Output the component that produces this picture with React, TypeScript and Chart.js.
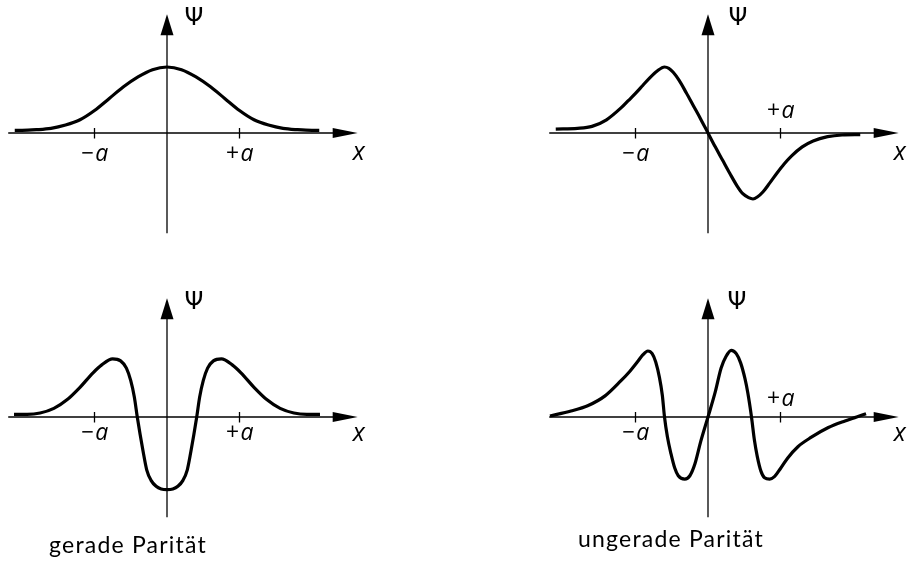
import React, { useEffect, useRef } from "react";
import { Chart, registerables } from "chart.js";

Chart.register(...registerables);

// Wave functions ψ(x); x in units of a, ψ relative to the ground-state maximum.

// gerade Parität, ground state
const evenGroundX = [-2.1, -2.0, -1.8, -1.6, -1.4, -1.2, -1.0, -0.8, -0.6, -0.4, -0.2, 0, 0.2, 0.4, 0.6, 0.8, 1.0, 1.2, 1.4, 1.6, 1.8, 2.0, 2.1];
const evenGroundPsi = [0.04, 0.04, 0.05, 0.07, 0.12, 0.2, 0.34, 0.52, 0.7, 0.85, 0.96, 1.0, 0.96, 0.85, 0.7, 0.52, 0.34, 0.2, 0.12, 0.07, 0.05, 0.04, 0.04];

// ungerade Parität, first excited state
const oddFirstX = [-2.1, -1.8, -1.6, -1.4, -1.2, -1.1, -1.0, -0.9, -0.8, -0.7, -0.6, -0.54, -0.48, -0.4, -0.3, -0.2, -0.1, 0, 0.1, 0.2, 0.3, 0.4, 0.48, 0.56, 0.62, 0.68, 0.76, 0.85, 0.95, 1.05, 1.15, 1.3, 1.45, 1.65, 1.85, 2.1];
const oddFirstPsi = [0.06, 0.07, 0.1, 0.2, 0.38, 0.49, 0.6, 0.72, 0.84, 0.94, 1.0, 0.98, 0.92, 0.8, 0.61, 0.41, 0.21, 0, -0.21, -0.41, -0.61, -0.8, -0.92, -0.98, -1.0, -0.97, -0.89, -0.76, -0.61, -0.47, -0.35, -0.21, -0.12, -0.055, -0.03, -0.025];

// gerade Parität, second excited state
const evenSecondX = [-2.11, -1.93, -1.75, -1.56, -1.38, -1.2, -1.02, -0.9, -0.75, -0.64, -0.56, -0.5, -0.45, -0.41, -0.37, -0.33, -0.28, -0.22, -0.15, -0.08, 0, 0.08, 0.15, 0.22, 0.28, 0.33, 0.37, 0.41, 0.45, 0.5, 0.56, 0.64, 0.75, 0.9, 1.02, 1.2, 1.38, 1.56, 1.75, 1.93, 2.11];
const evenSecondPsi = [0.04, 0.04, 0.06, 0.13, 0.26, 0.45, 0.67, 0.79, 0.88, 0.85, 0.74, 0.55, 0.3, 0, -0.27, -0.52, -0.8, -0.96, -1.05, -1.09, -1.1, -1.09, -1.05, -0.96, -0.8, -0.52, -0.27, 0, 0.3, 0.55, 0.74, 0.85, 0.88, 0.79, 0.67, 0.45, 0.26, 0.13, 0.06, 0.04, 0.04];

// ungerade Parität, third excited state
const oddThirdX = [-2.18, -1.89, -1.66, -1.42, -1.2, -1.08, -0.97, -0.9, -0.83, -0.77, -0.72, -0.67, -0.63, -0.6, -0.56, -0.51, -0.46, -0.41, -0.32, -0.25, -0.18, -0.1, 0, 0.1, 0.18, 0.25, 0.32, 0.39, 0.45, 0.51, 0.55, 0.6, 0.64, 0.68, 0.73, 0.78, 0.85, 0.92, 1.0, 1.1, 1.24, 1.42, 1.66, 1.89, 2.05, 2.18];
const oddThirdPsi = [0.015, 0.09, 0.17, 0.32, 0.55, 0.69, 0.84, 0.94, 1.0, 0.96, 0.83, 0.6, 0.33, 0, -0.3, -0.56, -0.77, -0.89, -0.94, -0.89, -0.71, -0.37, 0, 0.38, 0.74, 0.92, 1.01, 0.96, 0.82, 0.58, 0.36, 0, -0.35, -0.6, -0.82, -0.92, -0.94, -0.9, -0.78, -0.62, -0.45, -0.31, -0.16, -0.06, 0, 0.05];

// Axis annotations
const tickValues = [-1, 1];
const tickLabels = ["\u2212a", "+a"];
const axisNameX = "x";
const axisNameY = "\u03a8";
const captions = ["gerade Parit\u00e4t", "ungerade Parit\u00e4t"];

const PX_PER_A = 72.5;
const PX_PER_PSI = 66;
const CANVAS_W = 400;
const CANVAS_H = 260;
const ORIGIN_X = 180;
const ORIGIN_Y = 135;

type PanelSpec = {
  xs: number[];
  ys: number[];
  ox: number;
  oy: number;
  labelDy: number[]; // vertical offset of the −a / +a labels from the axis
  psiDx: number;
  nameDy: number;
};

const panels: PanelSpec[] = [
  { xs: evenGroundX, ys: evenGroundPsi, ox: 167, oy: 132.5, labelDy: [21, 21], psiDx: 27, nameDy: 20 },
  { xs: oddFirstX, ys: oddFirstPsi, ox: 707.5, oy: 133, labelDy: [21, -22], psiDx: 30, nameDy: 20 },
  { xs: evenSecondX, ys: evenSecondPsi, ox: 167, oy: 417, labelDy: [16.5, 16.5], psiDx: 27, nameDy: 16.5 },
  { xs: oddThirdX, ys: oddThirdPsi, ox: 707.5, oy: 417, labelDy: [16.5, -18], psiDx: 29, nameDy: 16.5 },
];

function axesPlugin(spec: PanelSpec) {
  return {
    id: "arrowAxes",
    beforeDatasetsDraw(chart: Chart) {
      const { ctx } = chart;
      const sx = chart.scales.x;
      const sy = chart.scales.y;
      const x0 = sx.getPixelForValue(0);
      const y0 = sy.getPixelForValue(0);
      const xL = sx.getPixelForValue(-2.19);
      const xTip = sx.getPixelForValue(2.63);
      const yBot = sy.getPixelForValue(-1.52);
      const yTip = sy.getPixelForValue(1.8);
      ctx.save();
      ctx.strokeStyle = "#000";
      ctx.fillStyle = "#000";
      ctx.lineWidth = 1.3;
      // x axis with arrow
      ctx.beginPath();
      ctx.moveTo(xL, y0);
      ctx.lineTo(xTip - 20, y0);
      ctx.stroke();
      ctx.beginPath();
      ctx.moveTo(xTip, y0);
      ctx.lineTo(xTip - 25, y0 - 5);
      ctx.lineTo(xTip - 25, y0 + 5);
      ctx.closePath();
      ctx.fill();
      // y axis with arrow
      ctx.beginPath();
      ctx.moveTo(x0, yBot);
      ctx.lineTo(x0, yTip + 16);
      ctx.stroke();
      ctx.beginPath();
      ctx.moveTo(x0, yTip);
      ctx.lineTo(x0 - 6.5, yTip + 21);
      ctx.lineTo(x0 + 6.5, yTip + 21);
      ctx.closePath();
      ctx.fill();
      // ticks at ±a
      tickValues.forEach((v, i) => {
        const tx = sx.getPixelForValue(v);
        ctx.beginPath();
        ctx.moveTo(tx, y0 - 5);
        ctx.lineTo(tx, y0 + 5.5);
        ctx.stroke();
        ctx.font = "italic 23px 'Open Sans'";
        (ctx as any).letterSpacing = "2px";
        ctx.textAlign = "center";
        ctx.textBaseline = "middle";
        ctx.fillText(tickLabels[i], tx + 1, y0 + spec.labelDy[i]);
      });
      (ctx as any).letterSpacing = "0px";
      // axis names
      ctx.font = "italic 25px 'Open Sans'";
      ctx.textAlign = "center";
      ctx.textBaseline = "middle";
      ctx.fillText(axisNameX, xTip + 1, y0 + spec.nameDy);
      ctx.font = "24px 'DejaVu Sans'";
      ctx.fillText(axisNameY, x0 + spec.psiDx, yTip + 5);
      ctx.restore();
    },
  };
}

function WavePanel({ spec }: { spec: PanelSpec }) {
  const ref = useRef<HTMLCanvasElement | null>(null);
  useEffect(() => {
    const canvas = ref.current;
    if (!canvas) return;
    const chart = new Chart(canvas, {
      type: "line",
      data: {
        datasets: [
          {
            data: spec.xs.map((x, i) => ({ x, y: spec.ys[i] })),
            borderColor: "#000",
            borderWidth: 3.2,
            pointRadius: 0,
            fill: false,
            cubicInterpolationMode: "monotone",
            borderJoinStyle: "round",
            clip: false,
          },
        ],
      },
      options: {
        animation: false,
        responsive: false,
        events: [],
        layout: { padding: 0 },
        plugins: { legend: { display: false }, tooltip: { enabled: false } },
        scales: {
          x: { type: "linear", display: false, min: -ORIGIN_X / PX_PER_A, max: (CANVAS_W - ORIGIN_X) / PX_PER_A },
          y: { type: "linear", display: false, min: -(CANVAS_H - ORIGIN_Y) / PX_PER_PSI, max: ORIGIN_Y / PX_PER_PSI },
        },
      },
      plugins: [axesPlugin(spec)],
    } as any);
    return () => chart.destroy();
  }, [spec]);
  return (
    <canvas
      ref={ref}
      width={CANVAS_W}
      height={CANVAS_H}
      style={{
        position: "absolute",
        left: spec.ox - ORIGIN_X,
        top: spec.oy - ORIGIN_Y,
        width: CANVAS_W,
        height: CANVAS_H,
      }}
    />
  );
}

const captionStyle: React.CSSProperties = {
  position: "absolute",
  width: 300,
  textAlign: "center",
  font: "23px 'Lato'",
  letterSpacing: "1.2px",
  color: "#000",
  whiteSpace: "nowrap",
};

export default function App() {
  return (
    <div
      style={{
        position: "absolute",
        left: 0,
        top: 0,
        width: 909,
        height: 571,
        overflow: "hidden",
        background: "#fff",
      }}
    >
      {panels.map((p, i) => (
        <WavePanel key={i} spec={p} />
      ))}
      <div style={{ ...captionStyle, left: 128 - 150, top: 530 }}>{captions[0]}</div>
      <div style={{ ...captionStyle, left: 671 - 150, top: 524 }}>{captions[1]}</div>
    </div>
  );
}
